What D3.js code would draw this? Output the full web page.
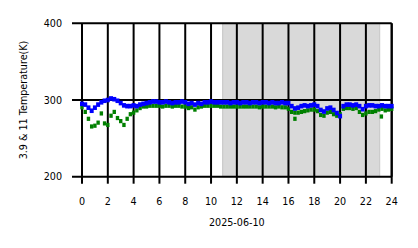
<!DOCTYPE html>
<html>
<head>
<meta charset="utf-8">
<script src="https://cdn.jsdelivr.net/npm/d3@7/dist/d3.min.js"></script>
<style>
html,body{margin:0;padding:0;background:#fff;}
svg{display:block;}
text{font-family:"DejaVu Sans",sans-serif;fill:#000;}
</style>
</head>
<body>
<svg id="chart" width="418" height="248"></svg>
<script>
// ---- data ----
const step = 0.25; // hours between samples
const blueTemps = [
 295,294,290,286,290,294,297,299,300,302,301,299,296,293,292,292,
 293,292,294,295,296,297,298,298,297,297,298,297,296,297,297,298,
 297,295,296,294,296,295,297,297,298,297,297,297,297,297,296,297,
 297,296,297,297,296,297,297,296,297,297,296,297,296,296,297,296,
 296,292,289,290,292,293,292,293,294,292,287,285,289,290,287,283,
 279,292,294,294,293,294,292,288,292,293,293,292,292,293,292,292,
 292
];
const greenTemps = [
 291,285,276,266,267,271,283,270,268,280,285,277,273,268,276,282,
 284,287,290,292,292,293,293,293,293,292,293,293,292,293,293,292,
 292,290,291,288,291,292,293,293,293,293,293,292,292,292,292,292,
 292,292,292,292,292,292,292,291,292,292,292,292,291,292,291,291,
 289,285,284,284,285,286,287,288,288,286,281,280,284,285,282,280,
 282,289,290,290,289,290,285,281,283,285,285,286,288,289,287,288,
 289
];
const greenExtraHours = [16.5, 23.2];
const greenExtraTemps = [276, 279];
const shadeStart = 10.9, shadeEnd = 23.07;
const xTicks = [0,2,4,6,8,10,12,14,16,18,20,22,24];
const yTicks = [200,300,400];
const xLabel = "2025-06-10";
const yLabel = "3.9 & 11 Temperature(K)";

// ---- chart ----
const svg = d3.select("#chart");
const L = 82, R = 391.7, T = 23.3, B = 176.7;
const x = d3.scaleLinear().domain([0,24]).range([L,R]);
const y = d3.scaleLinear().domain([200,400]).range([B,T]);

// shaded region
svg.append("rect")
  .attr("x", x(shadeStart)).attr("y", y(400))
  .attr("width", x(shadeEnd)-x(shadeStart)).attr("height", y(200)-y(400))
  .attr("fill", "#d9d9d9").attr("stroke", "#c6c6c6").attr("stroke-width", 1);

// grid
const g = svg.append("g");
g.selectAll("line.vx").data(xTicks).join("line")
  .attr("x1", d=>x(d)).attr("x2", d=>x(d)).attr("y1", y(400)).attr("y2", y(200)+7)
  .attr("stroke","#000").attr("stroke-width",2);
g.selectAll("line.hy").data(yTicks).join("line")
  .attr("x1", L-10).attr("x2", R).attr("y1", d=>y(d)).attr("y2", d=>y(d))
  .attr("stroke","#000").attr("stroke-width",2);
svg.append("line").attr("x1",R).attr("x2",R).attr("y1",y(400)).attr("y2",y(200))
  .attr("stroke","#000").attr("stroke-width",2);

// points
const gs = 3.4, bw = 4, bh = 4.6;
const greenPts = greenTemps.map((v,i)=>[i*step, v])
  .concat(greenExtraHours.map((h,i)=>[h, greenExtraTemps[i]]));
svg.append("g").selectAll("rect").data(greenPts).join("rect")
  .attr("x", d=>x(d[0])-gs/2).attr("y", d=>y(d[1])-gs/2)
  .attr("width", gs).attr("height", gs+0.8).attr("fill", "#008000");
const bluePts = blueTemps.map((v,i)=>[i*step, v]);
svg.append("g").selectAll("rect").data(bluePts).join("rect")
  .attr("x", d=>x(d[0])-bw/2).attr("y", d=>y(d[1])-bh/2)
  .attr("width", bw).attr("height", bh).attr("fill", "#0000ff");

// tick labels
svg.append("g").selectAll("text").data(xTicks).join("text")
  .attr("x", d=>x(d)).attr("y", 205).attr("text-anchor","middle")
  .attr("font-size", 9.6).text(d=>d);
svg.append("g").selectAll("text").data(yTicks).join("text")
  .attr("x", 62).attr("y", d=>y(d)+3.5).attr("text-anchor","end")
  .attr("font-size", 9.6).text(d=>d);

// axis labels
svg.append("text").attr("x", (L+R)/2).attr("y", 226).attr("text-anchor","middle")
  .attr("font-size", 9.6).text(xLabel);
svg.append("text").attr("transform", `translate(26.5,${(T+B)/2}) rotate(-90)`)
  .attr("text-anchor","middle").attr("font-size", 9.6).text(yLabel);
</script>
</body>
</html>
